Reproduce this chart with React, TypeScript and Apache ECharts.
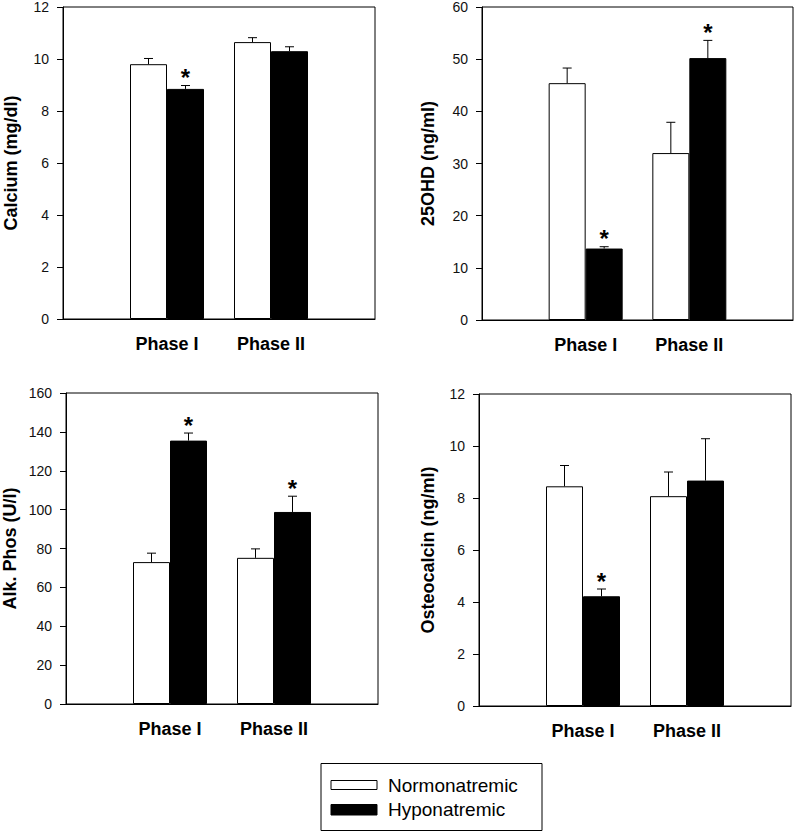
import React, { useEffect, useRef } from "react";
import * as echarts from "echarts";

// Category slots: empty slots at both ends put the two phases at 1/3 and 2/3 of the axis
const categories = ["", "Phase I", "Phase II", ""];
const phaseIndex = [1, 2];
const seriesNames = ["Normonatremic", "Hyponatremic"];

const panelNames = ["Calcium (mg/dl)", "25OHD (ng/ml)", "Alk. Phos (U/l)", "Osteocalcin (ng/ml)"];
const yMax = [12, 60, 160, 12];
const yStep = [2, 10, 20, 2];

// Calcium
const calciumNormo = [9.8, 10.65];
const calciumNormoErr = [0.22, 0.17];
const calciumHypo = [8.85, 10.3];
const calciumHypoErr = [0.13, 0.17];
const calciumHypoSig = [true, false];

// 25OHD
const ohdNormo = [45.4, 32.0];
const ohdNormoErr = [2.9, 5.9];
const ohdHypo = [13.7, 50.2];
const ohdHypoErr = [0.35, 3.4];
const ohdHypoSig = [true, true];

// Alk. Phos
const alkNormo = [73.0, 75.2];
const alkNormoErr = [4.6, 4.6];
const alkHypo = [135.5, 98.8];
const alkHypoErr = [3.9, 8.1];
const alkHypoSig = [true, true];

// Osteocalcin
const osteoNormo = [8.45, 8.07];
const osteoNormoErr = [0.8, 0.93];
const osteoHypo = [4.22, 8.67];
const osteoHypoErr = [0.28, 1.61];
const osteoHypoSig = [true, false];

const panelNormo = [calciumNormo, ohdNormo, alkNormo, osteoNormo];
const panelNormoErr = [calciumNormoErr, ohdNormoErr, alkNormoErr, osteoNormoErr];
const panelHypo = [calciumHypo, ohdHypo, alkHypo, osteoHypo];
const panelHypoErr = [calciumHypoErr, ohdHypoErr, alkHypoErr, osteoHypoErr];
const panelHypoSig = [calciumHypoSig, ohdHypoSig, alkHypoSig, osteoHypoSig];

// layout
const grids = [
  { left: 63, top: 7, width: 312, height: 312 },
  { left: 482, top: 7, width: 312, height: 313 },
  { left: 66, top: 393, width: 312, height: 311 },
  { left: 479, top: 394, width: 312, height: 312 },
];
const nameGaps = [43, 45, 47, 42];
const BAR_W = 37;
const FONT = "'Liberation Sans', Arial, Helvetica, sans-serif";

function toSlots(vals: number[]) {
  const out: (number | null)[] = categories.map(() => null);
  phaseIndex.forEach((ci, i) => (out[ci] = vals[i]));
  return out;
}

export default function App() {
  const ref = useRef<HTMLDivElement>(null);
  useEffect(() => {
    if (!ref.current) return;
    const chart = echarts.init(ref.current, undefined, { renderer: "svg" });

    const xAxis: any[] = [];
    const yAxis: any[] = [];
    const series: any[] = [];
    grids.forEach((g, p) => {
      xAxis.push({
        type: "category",
        gridIndex: p,
        data: categories,
        boundaryGap: false,
        axisTick: { show: false },
        axisLine: { lineStyle: { color: "#000", width: 1 } },
        axisLabel: {
          interval: 0,
          margin: 16,
          color: "#000",
          fontSize: 18,
          fontWeight: "bold",
          fontFamily: FONT,
        },
        splitLine: { show: false },
      });
      yAxis.push({
        type: "value",
        gridIndex: p,
        min: 0,
        max: yMax[p],
        interval: yStep[p],
        name: panelNames[p],
        nameLocation: "middle",
        nameGap: nameGaps[p],
        nameTextStyle: { color: "#000", fontSize: 18, fontWeight: "bold", fontFamily: FONT },
        axisLine: { show: true, lineStyle: { color: "#000", width: 1 } },
        axisTick: { show: true, length: 6, lineStyle: { color: "#000" } },
        axisLabel: { margin: 14, color: "#111", fontSize: 14, fontFamily: FONT },
        splitLine: { show: false },
      });
      series.push({
        name: seriesNames[0],
        type: "bar",
        xAxisIndex: p,
        yAxisIndex: p,
        barWidth: BAR_W,
        barGap: "0%",
        data: toSlots(panelNormo[p]),
        itemStyle: { color: "#fff", borderColor: "#000", borderWidth: 1 },
      });
      series.push({
        name: seriesNames[1],
        type: "bar",
        xAxisIndex: p,
        yAxisIndex: p,
        barWidth: BAR_W,
        barGap: "0%",
        data: toSlots(panelHypo[p]),
        itemStyle: { color: "#000", borderColor: "#000", borderWidth: 1 },
      });
      const errData: number[][] = [];
      phaseIndex.forEach((ci, i) => {
        errData.push([ci, panelNormo[p][i], panelNormoErr[p][i], -1, 0]);
        errData.push([ci, panelHypo[p][i], panelHypoErr[p][i], 1, panelHypoSig[p][i] ? 1 : 0]);
      });
      series.push({
        type: "custom",
        xAxisIndex: p,
        yAxisIndex: p,
        z: 5,
        data: errData,
        renderItem: (params: any, api: any) => {
          const ci = api.value(0);
          const v = api.value(1);
          const e = api.value(2);
          const side = api.value(3);
          const sig = api.value(4);
          const base = api.coord([ci, v]);
          const top = api.coord([ci, v + e]);
          const x = base[0] + (side * BAR_W) / 2;
          const children: any[] = [
            {
              type: "line",
              shape: { x1: x, y1: base[1], x2: x, y2: top[1] },
              style: { stroke: "#000", lineWidth: 1 },
            },
            {
              type: "line",
              shape: { x1: x - 4.5, y1: top[1], x2: x + 4.5, y2: top[1] },
              style: { stroke: "#000", lineWidth: 1 },
            },
          ];
          if (sig) {
            children.push({
              type: "text",
              x: x,
              y: top[1] - 8,
              style: {
                text: "*",
                fill: "#000",
                font: `bold 24px ${FONT}`,
                textAlign: "center",
                textVerticalAlign: "middle",
              },
            });
          }
          return { type: "group", children };
        },
      });
    });

    chart.setOption({
      animation: false,
      backgroundColor: "#fff",
      grid: grids.map((g) => ({
        ...g,
        show: true,
        borderColor: "#000",
        borderWidth: 1,
        backgroundColor: "transparent",
        containLabel: false,
      })),
      xAxis,
      yAxis,
      series,
      graphic: [
        {
          type: "rect",
          shape: { x: 321, y: 763.5, width: 221, height: 67 },
          style: { fill: "#fff", stroke: "#000", lineWidth: 1 },
        },
        {
          type: "rect",
          shape: { x: 331, y: 780.5, width: 46, height: 9 },
          style: { fill: "#fff", stroke: "#000", lineWidth: 1 },
        },
        {
          type: "rect",
          shape: { x: 331, y: 804.5, width: 46, height: 10.5 },
          style: { fill: "#000", stroke: "#000", lineWidth: 1 },
        },
        {
          type: "text",
          x: 388,
          y: 785,
          style: {
            text: seriesNames[0],
            fill: "#000",
            font: `19px ${FONT}`,
            textVerticalAlign: "middle",
          },
        },
        {
          type: "text",
          x: 388,
          y: 809,
          style: {
            text: seriesNames[1],
            fill: "#000",
            font: `19px ${FONT}`,
            textVerticalAlign: "middle",
          },
        },
      ],
    });
    return () => chart.dispose();
  }, []);
  return (
    <div
      ref={ref}
      style={{ position: "fixed", left: 0, top: 0, width: 796, height: 833, background: "#fff" }}
    />
  );
}
